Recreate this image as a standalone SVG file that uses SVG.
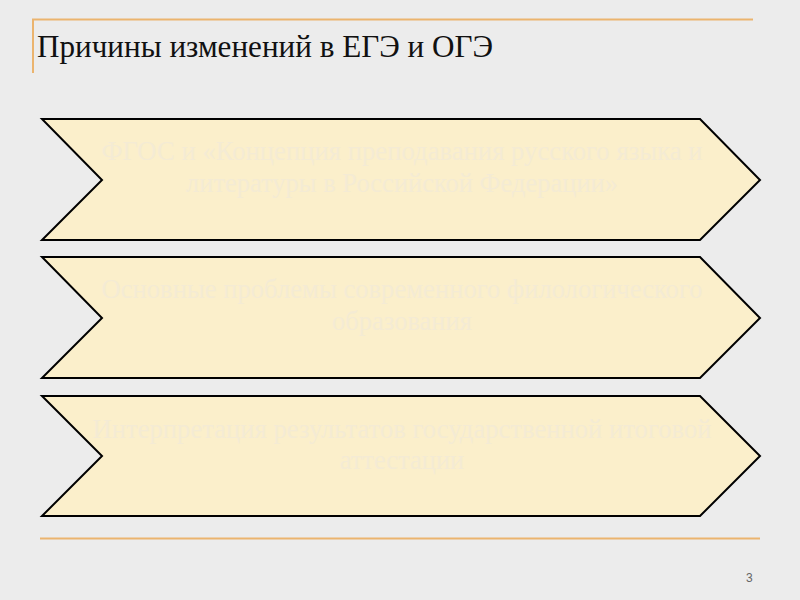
<svg xmlns="http://www.w3.org/2000/svg" width="800" height="600" viewBox="0 0 800 600">
<style>
.bg{fill:#ECECEC}
.rule{stroke:#EBB46E;stroke-width:2;fill:none}
.chev{fill:#FBEFCB;stroke:#000;stroke-width:2;stroke-linejoin:miter}
.lbl{font-family:"Liberation Serif","Times New Roman",serif;font-size:26.5px;fill:#F4EBD4;text-anchor:middle}
.title{font-family:"Liberation Serif","Times New Roman",serif;font-size:31px;fill:#111}
.num{font-family:"Liberation Sans",Arial,sans-serif;font-size:12px;fill:#666}
</style>
<rect class="bg" x="0" y="0" width="800" height="600"/>
<g id="frame">
<path class="rule" d="M33 73 V19.5 H753"/>
<path class="rule" d="M40 538.5 H760"/>
<text class="title" x="37" y="57" textLength="456" lengthAdjust="spacingAndGlyphs">Причины изменений в ЕГЭ и ОГЭ</text>
<text class="num" x="746" y="582">3</text>
</g>
<g id="node1">
<polygon class="chev" points="42,119 700,119 760,180 700,240 42,240 102,180"/>
<text class="lbl" x="402" y="160" textLength="601" lengthAdjust="spacingAndGlyphs">ФГОС и «Концепция преподавания русского языка и</text>
<text class="lbl" x="402" y="192">литературы в Российской Федерации»</text>
</g>
<g id="node2">
<polygon class="chev" points="42,257 700,257 760,318 700,378 42,378 102,318"/>
<text class="lbl" x="402" y="298" textLength="601" lengthAdjust="spacingAndGlyphs">Основные проблемы современного филологического</text>
<text class="lbl" x="402" y="330">образования</text>
</g>
<g id="node3">
<polygon class="chev" points="42,396 700,396 760,456 700,516 42,516 102,456"/>
<text class="lbl" x="402" y="438" textLength="619" lengthAdjust="spacingAndGlyphs">Интерпретация результатов государственной итоговой</text>
<text class="lbl" x="402" y="469">аттестации</text>
</g>
<g id="connectors"/>
</svg>
